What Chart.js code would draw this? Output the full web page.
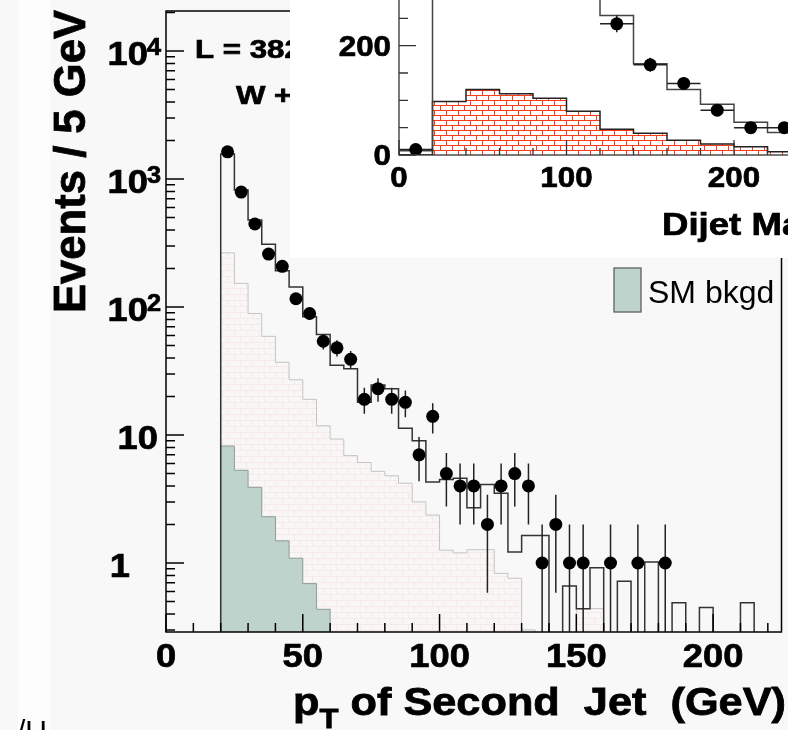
<!DOCTYPE html>
<html>
<head>
<meta charset="utf-8">
<script src="https://cdn.jsdelivr.net/npm/chart.js@4.4.0/dist/chart.umd.min.js"></script>
<style>
html, body { margin: 0; padding: 0; width: 788px; height: 730px; overflow: hidden; background: #f8f8f8; }
#strip { position: absolute; left: 18px; top: 0; width: 32px; height: 730px; background: #fdfdfd; }
#main { position: absolute; left: 0; top: 0; }
#panel { position: absolute; left: 290px; top: 0; width: 498px; height: 258px; background: #fff; }
#inset { position: absolute; left: 290px; top: -30px; }
</style>
</head>
<body>
<div id="strip"></div>
<canvas id="main" width="788" height="730"></canvas>
<div id="panel"></div>
<canvas id="inset" width="530" height="290"></canvas>
<script>
const FF = '"Liberation Sans", Arial, sans-serif';

// main plot: pT of second jet, 5 GeV bins starting at 20 GeV
const ptLo = 20, ptWidth = 5;
const dataCounts = [1630, 790, 445, 259, 208, 116, 89, 54, 48, 39, 19, 23, 19, 18, 7, 14,
    5, 4, 4, 2, 4, 5, 4, 1, 2, 1, 1, 0, 1, 0, 1, 0, 1];
const totalMC = [1570, 820, 478, 309, 192, 143, 84, 61, 35, 33, 18, 24.6, 23, 11.3, 9.0, 4.3,
    4.5, 4.6, 2.7, 4.1, 3.5, 1.22, 1.64, 1.64, 0, 0.66, 0.44, 0.92, 0, 0.72, 0, 1.02, 0,
    0.49, 0, 0.45, 0, 0, 0.49];
const wjjMC = [265, 153, 89, 59, 37, 27, 19, 11.8, 9.3, 6.9, 6.1, 5.2, 4.8, 4.2, 3.0, 2.37,
    1.26, 1.2, 1.27, 1.27, 0.83, 0.76, 0.30, 0, 0, 0, 0.44, 0.44];
const smBkgd = [8.2, 5.3, 3.9, 2.3, 1.49, 1.09, 0.69, 0.435];
const xTickLabels = [0, 50, 100, 150, 200];
const yTickValues = [1, 10, 100, 1000, 10000];
const yTickBase = ['1', '10', '10', '10', '10'];
const yTickExp = ['', '', '2', '3', '4'];

// inset: dijet mass, 20 GeV bins
const massLo = 0, massWidth = 20;
const massData = [10, 380, 740, 700, 560, 380, 240, 165, 131, 82, 50, 50];
const massTotal = [8, 420, 760, 720, 580, 400, 255, 167, 120, 93, 60, 41];
const massSignal = [0, 98, 120, 112, 104, 80, 47, 40, 27, 20, 15, 6];
const massXTicks = [0, 100, 200];
const massYTicks = [0, 200];

function histPoints(vals, lo, w, floor) {
    const pts = [{x: lo, y: floor}];
    vals.forEach((v, i) => pts.push({x: lo + i * w, y: v > 0 ? v : floor}));
    pts.push({x: lo + vals.length * w, y: floor});
    return pts;
}

function dataPoints(vals, lo, w) {
    const pts = [];
    vals.forEach((v, i) => { if (v > 0) pts.push({x: lo + (i + 0.5) * w, y: v}); });
    return pts;
}

function brick(w, h, bg, line) {
    const c = document.createElement("canvas");
    c.width = w; c.height = h * 2;
    const g = c.getContext("2d");
    g.fillStyle = bg; g.fillRect(0, 0, w, h * 2);
    g.fillStyle = line;
    g.fillRect(0, 0, w, 1);
    g.fillRect(0, h, w, 1);
    g.fillRect(0, 0, 1, h);
    g.fillRect(Math.floor(w / 2), h, 1, h);
    return g.createPattern(c, "repeat");
}

// bold text, slightly widened and thickened like the ROOT rendering
function fitText(ctx, txt, x, y, font, sx, align) {
    ctx.save();
    ctx.font = font;
    ctx.translate(x, y);
    ctx.scale(sx, 1);
    ctx.textAlign = align || "left";
    ctx.fillText(txt, 0, 0);
    ctx.lineWidth = 0.7;
    ctx.strokeStyle = ctx.fillStyle;
    ctx.strokeText(txt, 0, 0);
    ctx.restore();
}

const mainDecor = {
    id: "mainDecor",
    beforeDatasetDraw(chart, args) {
        if (args.index !== 0) return;
        const {ctx, chartArea: a, scales: {x, y}} = chart;
        ctx.save();
        ctx.beginPath();
        ctx.rect(a.left, a.top, a.right - a.left, a.bottom - a.top);
        ctx.clip();
        ctx.strokeStyle = "#222";
        ctx.lineWidth = 1.5;
        ctx.beginPath();
        dataCounts.forEach((n, i) => {
            if (n <= 0) return;
            const px = x.getPixelForValue(ptLo + (i + 0.5) * ptWidth);
            const e = Math.sqrt(n);
            const y0 = n - e > 0 ? y.getPixelForValue(n - e) : a.bottom;
            ctx.moveTo(px, y0);
            ctx.lineTo(px, y.getPixelForValue(n + e));
        });
        ctx.stroke();
        ctx.restore();
    },
    afterDraw(chart) {
        const {ctx, chartArea: a, scales: {x, y}} = chart;
        ctx.save();
        ctx.strokeStyle = "#000";
        ctx.lineWidth = 1.5;
        ctx.strokeRect(a.left, a.top, a.right - a.left, a.bottom - a.top);
        ctx.beginPath();
        for (let v = 0; v <= 220; v += 10) {
            const px = x.getPixelForValue(v);
            ctx.moveTo(px, a.bottom);
            ctx.lineTo(px, a.bottom - (v % 50 === 0 ? 18 : 9));
        }
        for (let d = -1; d <= 4; d++) {
            for (let k = 1; k <= 9; k++) {
                const v = k * Math.pow(10, d);
                if (v < y.min || v > y.max) continue;
                const py = y.getPixelForValue(v);
                ctx.moveTo(a.left, py);
                ctx.lineTo(a.left + (k === 1 ? 18 : 9), py);
            }
        }
        ctx.stroke();

        ctx.fillStyle = "#000";
        ctx.textBaseline = "alphabetic";
        xTickLabels.forEach(v => {
            fitText(ctx, String(v), x.getPixelForValue(v), 667, "bold 33px " + FF, 1.1, "center");
        });
        yTickValues.forEach((v, i) => {
            const py = y.getPixelForValue(v);
            if (yTickExp[i]) {
                fitText(ctx, yTickBase[i], 148, py + 14, "bold 33px " + FF, 1.1, "right");
                fitText(ctx, yTickExp[i], 147, py + 4, "bold 23px " + FF, 1.1, "left");
            } else if (v === 10) {
                fitText(ctx, yTickBase[i], 158, py + 14, "bold 33px " + FF, 1.1, "right");
            } else {
                fitText(ctx, yTickBase[i], 130, py + 14, "bold 33px " + FF, 1.1, "right");
            }
        });

        // axis titles
        const yTitle = "Events / 5 GeV";
        ctx.save();
        ctx.font = "bold 45px " + FF;
        const yw = ctx.measureText(yTitle).width;
        ctx.translate(85, 313);
        ctx.rotate(-Math.PI / 2);
        ctx.scale(303 / yw, 1);
        ctx.fillText(yTitle, 0, 0);
        ctx.lineWidth = 0.8;
        ctx.strokeText(yTitle, 0, 0);
        ctx.restore();

        ctx.save();
        ctx.font = "bold 39px " + FF;
        const wp = ctx.measureText("p").width;
        const rest = " of Second  Jet  (GeV)";
        const wr = ctx.measureText(rest).width;
        ctx.font = "bold 28px " + FF;
        const wt = ctx.measureText("T").width;
        ctx.translate(293, 715);
        ctx.scale(493 / (wp + wt + wr), 1);
        ctx.lineWidth = 0.8;
        ctx.font = "bold 39px " + FF;
        ctx.fillText("p", 0, 0);
        ctx.strokeText("p", 0, 0);
        ctx.fillText(rest, wp + wt, 0);
        ctx.strokeText(rest, wp + wt, 0);
        ctx.font = "bold 28px " + FF;
        ctx.fillText("T", wp, 13);
        ctx.strokeText("T", wp, 13);
        ctx.restore();

        // annotations
        fitText(ctx, "L = 382", 195, 58, "bold 25px " + FF, 1.25, "left");
        fitText(ctx, "W +", 236, 104, "bold 26px " + FF, 1.2, "left");

        // legend
        ctx.fillStyle = "#bed3cb";
        ctx.fillRect(614, 268, 27, 44);
        ctx.strokeStyle = "#555";
        ctx.lineWidth = 1.2;
        ctx.strokeRect(614, 268, 27, 44);
        ctx.fillStyle = "#000";
        ctx.font = "32px " + FF;
        ctx.fillText("SM bkgd", 648, 303);

        ctx.font = "30px " + FF;
        ctx.fillText("/U", 17, 741);
        ctx.restore();
    }
};

const mainCtx = document.getElementById("main");
const mainChart = new Chart(mainCtx, {
    type: "line",
    data: {
        datasets: [{
            label: "Data",
            data: dataPoints(dataCounts, ptLo, ptWidth),
            showLine: false,
            pointRadius: 6.5,
            pointBackgroundColor: "#000",
            pointBorderWidth: 0
        }, {
            label: "Total",
            data: histPoints(totalMC, ptLo, ptWidth, 0.01),
            stepped: true,
            borderColor: "#333",
            borderWidth: 1.5,
            pointRadius: 0,
            fill: false
        }, {
            label: "SM bkgd",
            data: histPoints(smBkgd, ptLo, ptWidth, 0.01),
            stepped: true,
            borderColor: "#8d9d96",
            borderWidth: 1,
            backgroundColor: "#bed3cb",
            pointRadius: 0,
            fill: "start"
        }, {
            label: "W + jets",
            data: histPoints(wjjMC, ptLo, ptWidth, 0.01),
            stepped: true,
            borderColor: "#c4c4c4",
            borderWidth: 1,
            backgroundColor: brick(12, 6, "#f9f6f6", "#f5e9e9"),
            pointRadius: 0,
            fill: "start"
        }]
    },
    options: {
        responsive: false,
        animation: false,
        layout: {padding: {left: 166, top: 11, right: 3, bottom: 98}},
        plugins: {legend: {display: false}, tooltip: {enabled: false}},
        scales: {
            x: {type: "linear", min: 0, max: 225, display: false},
            y: {type: "logarithmic", min: 0.289, max: 20540, display: false}
        }
    },
    plugins: [mainDecor]
});

const insetDecor = {
    id: "insetDecor",
    beforeDatasetDraw(chart, args) {
        if (args.index !== 0) return;
        const {ctx, chartArea: a, scales: {x, y}} = chart;
        ctx.save();
        ctx.beginPath();
        ctx.rect(a.left, a.top, a.right - a.left, a.bottom - a.top);
        ctx.clip();
        ctx.strokeStyle = "#222";
        ctx.lineWidth = 1.5;
        ctx.beginPath();
        massData.forEach((n, i) => {
            if (n <= 0) return;
            const c = massLo + (i + 0.5) * massWidth;
            const e = Math.sqrt(n);
            const px = x.getPixelForValue(c);
            const py = y.getPixelForValue(n);
            ctx.moveTo(px, y.getPixelForValue(n - e));
            ctx.lineTo(px, y.getPixelForValue(n + e));
            ctx.moveTo(x.getPixelForValue(c - massWidth / 2), py);
            ctx.lineTo(x.getPixelForValue(c + massWidth / 2), py);
        });
        ctx.stroke();
        ctx.restore();
    },
    afterDraw(chart) {
        const {ctx, chartArea: a, scales: {x, y}} = chart;
        ctx.save();
        ctx.strokeStyle = "#333";
        ctx.lineWidth = 1.3;
        ctx.strokeRect(a.left, a.top, a.right - a.left, a.bottom - a.top);
        ctx.beginPath();
        for (let v = 0; v <= 240; v += 20) {
            const px = x.getPixelForValue(v);
            ctx.moveTo(px, a.bottom);
            ctx.lineTo(px, a.bottom - (v % 100 === 0 ? 15 : 7));
        }
        for (let v = 0; v <= 300; v += 50) {
            const py = y.getPixelForValue(v);
            ctx.moveTo(a.left, py);
            ctx.lineTo(a.left + (v % 200 === 0 ? 17 : 9), py);
        }
        ctx.stroke();
        ctx.fillStyle = "#000";
        massXTicks.forEach(v => {
            fitText(ctx, String(v), x.getPixelForValue(v), 217, "bold 29px " + FF, 1.08, "center");
        });
        massYTicks.forEach(v => {
            fitText(ctx, String(v), a.left - 8, y.getPixelForValue(v) + 10, "bold 29px " + FF, 1.08, "right");
        });
        fitText(ctx, "Dijet Mass (GeV)", 372, 265, "bold 31px " + FF, 1.18, "left");
        ctx.restore();
    }
};

const insetCtx = document.getElementById("inset");
const insetChart = new Chart(insetCtx, {
    type: "line",
    data: {
        datasets: [{
            label: "Data",
            data: dataPoints(massData, massLo, massWidth),
            showLine: false,
            pointRadius: 6.5,
            pointBackgroundColor: "#000",
            pointBorderWidth: 0
        }, {
            label: "Total",
            data: histPoints(massTotal, massLo, massWidth, 0),
            stepped: true,
            borderColor: "#444",
            borderWidth: 1.5,
            pointRadius: 0,
            fill: false
        }, {
            label: "Signal",
            data: histPoints(massSignal, massLo, massWidth, 0),
            stepped: true,
            borderColor: "#222",
            borderWidth: 1.5,
            backgroundColor: brick(12, 5, "#ffffff", "#ff3b1a"),
            pointRadius: 0,
            fill: "start"
        }]
    },
    options: {
        responsive: false,
        animation: false,
        layout: {padding: {left: 109, top: 21, right: 19, bottom: 105}},
        plugins: {legend: {display: false}, tooltip: {enabled: false}},
        scales: {
            x: {type: "linear", min: 0, max: 240, display: false},
            y: {type: "linear", min: 0, max: 300, display: false}
        }
    },
    plugins: [insetDecor]
});
</script>
</body>
</html>
